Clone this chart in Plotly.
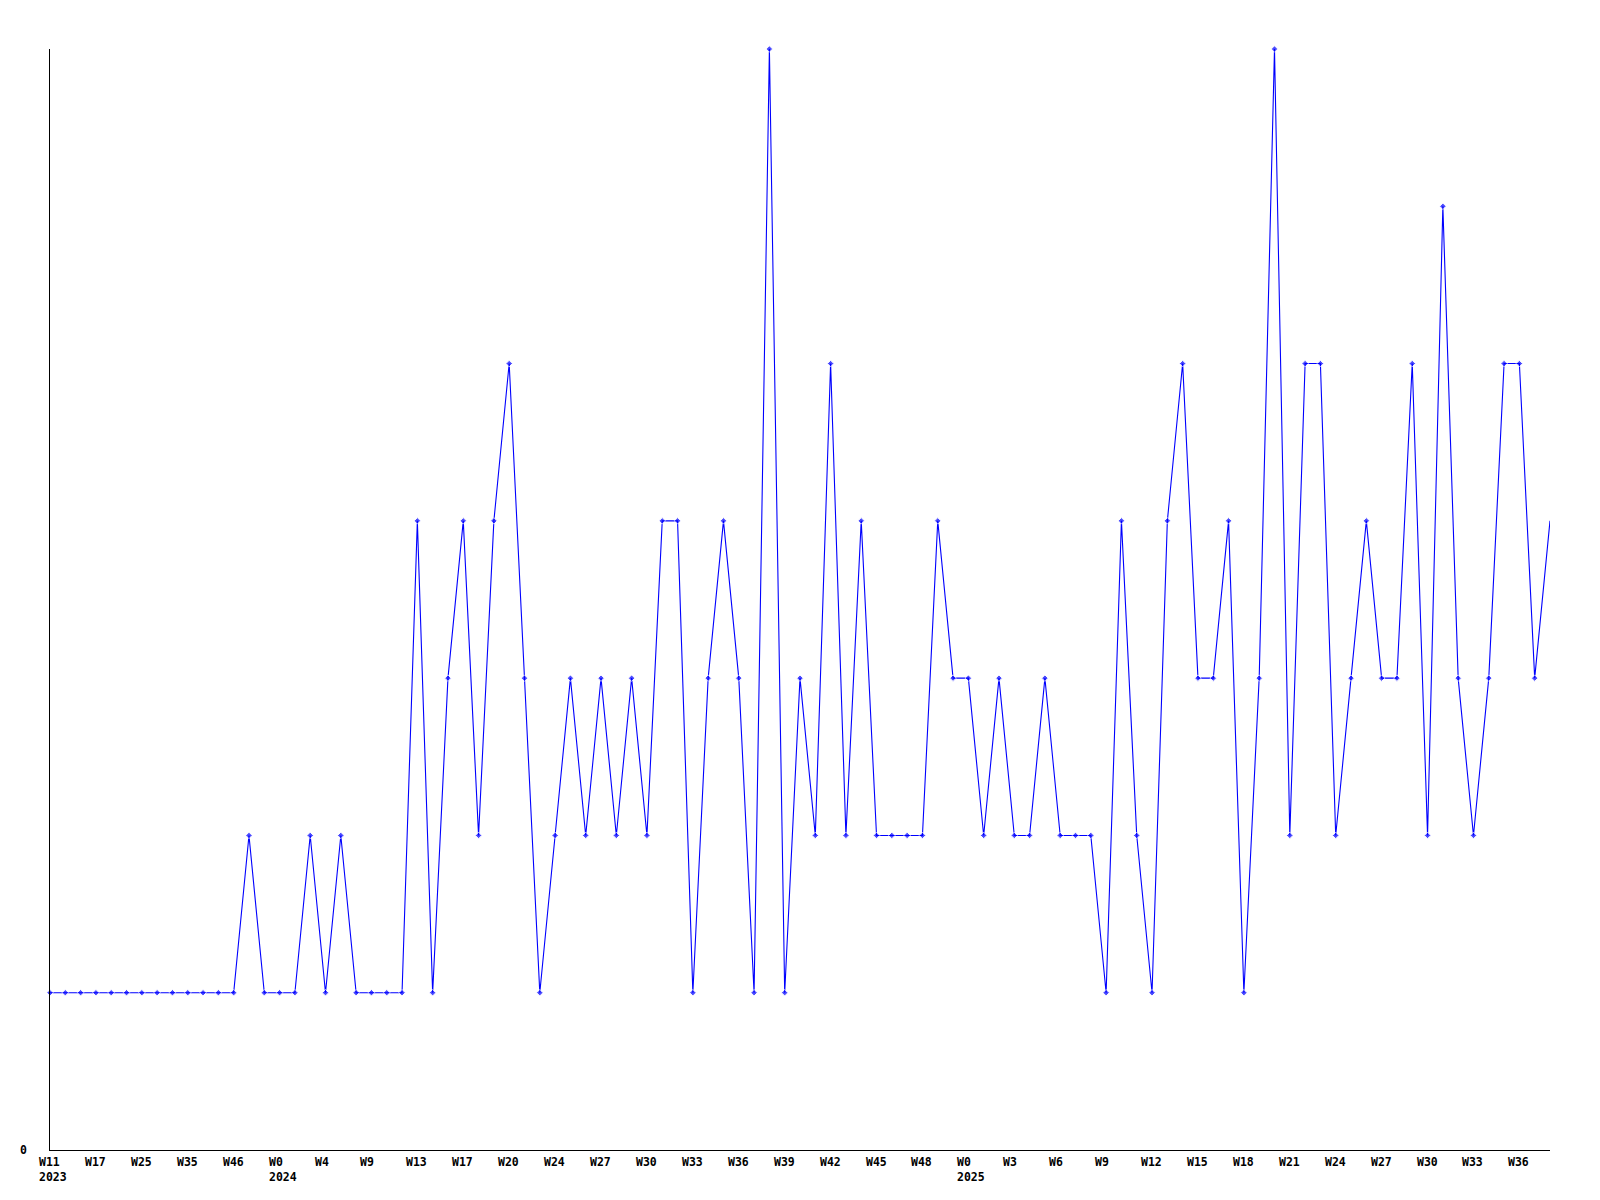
import plotly.graph_objects as go

# values per week (category index order)
values = [
    1, 1, 1, 1, 1, 1, 1, 1, 1, 1, 1, 1, 1, 2, 1, 1, 1, 2, 1, 2,
    1, 1, 1, 1, 4, 1, 3, 4, 2, 4, 5, 3, 1, 2, 3, 2, 3, 2, 3, 2,
    4, 4, 1, 3, 4, 3, 1, 7, 1, 3, 2, 5, 2, 4, 2, 2, 2, 2, 4, 3,
    3, 2, 3, 2, 2, 3, 2, 2, 2, 1, 4, 2, 1, 4, 5, 3, 3, 4, 1, 3,
    7, 2, 5, 5, 2, 3, 4, 3, 3, 5, 2, 6, 3, 2, 3, 5, 5, 3, 4,
]
tick_index = [0, 3, 6, 9, 12, 15, 18, 21, 24, 27, 30, 33, 36, 39, 42, 45,
              48, 51, 54, 57, 60, 63, 66, 69, 72, 75, 78, 81, 84, 87, 90, 93, 96]
tick_labels = ["W11<br>2023", "W17", "W25", "W35", "W46", "W0<br>2024", "W4", "W9",
               "W13", "W17", "W20", "W24", "W27", "W30", "W33", "W36", "W39", "W42",
               "W45", "W48", "W0<br>2025", "W3", "W6", "W9", "W12", "W15", "W18",
               "W21", "W24", "W27", "W30", "W33", "W36"]
y_labels = ["0"]

x = list(range(len(values)))
sizes = [5] * (len(values) - 1) + [0]

fig = go.Figure()
fig.add_trace(go.Scatter(
    x=x, y=values, mode="lines+markers",
    line=dict(color="#0000FF", width=1.1),
    marker=dict(symbol="diamond", size=sizes, color="#0000FF"),
    cliponaxis=False, hoverinfo="skip",
))

font = dict(family="DejaVu Sans Mono", size=11.5, color="black", weight="bold")
annotations = []
for xi, lab in zip(tick_index, tick_labels):
    annotations.append(dict(
        x=xi, xref="x", y=0, yref="paper", text=lab, showarrow=False,
        xanchor="left", yanchor="top", align="left", xshift=-13, yshift=-3,
        font=font,
    ))
annotations.append(dict(
    x=0, xref="paper", y=0, yref="y", text=y_labels[0], showarrow=False,
    xanchor="right", yanchor="middle", xshift=-21, font=font,
))

fig.update_layout(
    width=1592, height=1192,
    margin=dict(l=42, r=50, t=41, b=50),
    paper_bgcolor="white", plot_bgcolor="white",
    showlegend=False,
    annotations=annotations,
    xaxis=dict(range=[0, len(values) - 1], showline=True, linecolor="black",
               linewidth=1, showgrid=False, zeroline=False, showticklabels=False,
               ticks=""),
    yaxis=dict(range=[0, 7], showline=True, linecolor="black", linewidth=1,
               showgrid=False, zeroline=False, showticklabels=False, ticks=""),
)

fig.write_html("out.html")
